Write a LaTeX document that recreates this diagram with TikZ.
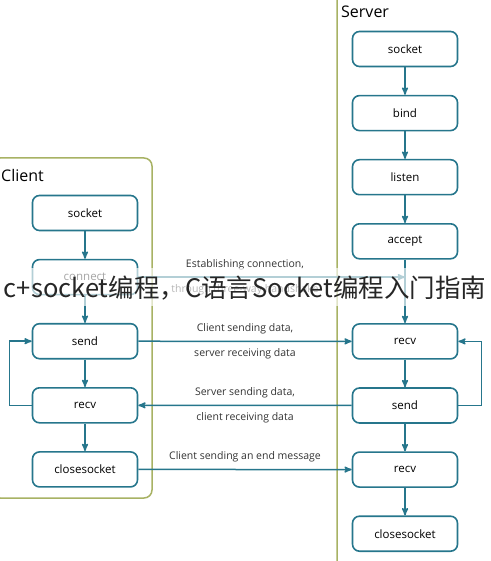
\documentclass[tikz,border=0pt]{standalone}
\usepackage{fontspec}
\setmainfont{Open Sans}
\newfontfamily\cjk{Noto Sans CJK SC}
\usetikzlibrary{arrows,positioning}
\definecolor{flowteal}{RGB}{38,118,140}
\definecolor{groupolive}{RGB}{168,178,100}

\begin{document}
\begin{tikzpicture}[x=1pt,y=-1pt,>=stealth',node distance=27.5pt,
        flow/.style={->,draw=flowteal,line width=1.5pt},
        container/.style={draw=groupolive,line width=1.5pt,rounded corners=8pt}]
        \tikzstyle{box}=[draw=flowteal, fill=white, line width=1.6pt, rounded corners=7pt,
            minimum width=105pt, minimum height=35pt, font=\fontsize{11.5}{13}\selectfont]
        \tikzstyle{lbl}=[font=\fontsize{10.5}{12}\selectfont, text=black!80]
        \tikzstyle{title}=[anchor=west, inner sep=1pt, font=\fontsize{16}{18}\selectfont]

        \path[use as bounding box, clip] (0,0) rectangle (490,561);

        % groups
        \draw[container] (-8,158) rectangle (152,498);
        \draw[container] (337,-20) rectangle (530,590);
        \node[title] (ctitle) at (0,176) {Client};
        \node[title] (stitle) at (340,12) {Server};

        % client
        \node[box] (csock) at (85,213) {socket};
        \node[box] (cconn) [below=of csock] {connect};
        \node[box] (csend) [below=of cconn] {send};
        \node[box] (crecv) [below=of csend] {recv};
        \node[box] (cclose) [below=of crecv] {closesocket};

        % server
        \node[box] (ssock) at (405,49) {socket};
        \node[box] (sbind) [below=of ssock] {bind};
        \node[box] (slisten) [below=of sbind] {listen};
        \node[box] (saccept) [below=of slisten] {accept};
        \node[box] (srecv) [below=63.5pt of saccept] {recv};
        \node[box] (ssend) [below=of srecv] {send};
        \node[box] (srecvb) [below=of ssend] {recv};
        \node[box] (sclose) [below=of srecvb] {closesocket};

        \foreach \a/\b in {csock/cconn, cconn/csend, csend/crecv, crecv/cclose,
            ssock/sbind, sbind/slisten, slisten/saccept, saccept/srecv,
            srecv/ssend, ssend/srecvb, srecvb/sclose}
            \draw[flow] (\a) -- (\b);

        % loops
        \draw[flow] (crecv.west) -- ++(-22,0) |- (csend.west);
        \draw[flow] (ssend.east) -- ++(23,0) |- (srecv.east);

        % between client and server
        \coordinate (hs) at (saccept.south |- cconn.east);
        \draw[flow] (cconn) -- node[lbl, above=3pt, pos=0.4] {Establishing connection,}
            node[lbl, below=3pt, pos=0.4] {through three-way handshake} (hs);
        \draw[flow] (csend) -- node[lbl, above=3pt] {Client sending data,}
            node[lbl, below=3pt] {server receiving data} (srecv);
        \draw[flow] (ssend) -- node[lbl, above=3pt] {Server sending data,}
            node[lbl, below=3pt] {client receiving data} (crecv);
        \draw[flow] (cclose) -- node[lbl, above=3pt] {Client sending an end message} (srecvb);

        % watermark
        \fill[white, fill opacity=0.65] (0,268) rectangle (490,306);
        \node[text=black!85, font=\fontsize{25.5}{28}\cjk] (wm) at (245,288)
            {c+socket编程，C语言Socket编程入门指南};
    \end{tikzpicture}
\end{document}
